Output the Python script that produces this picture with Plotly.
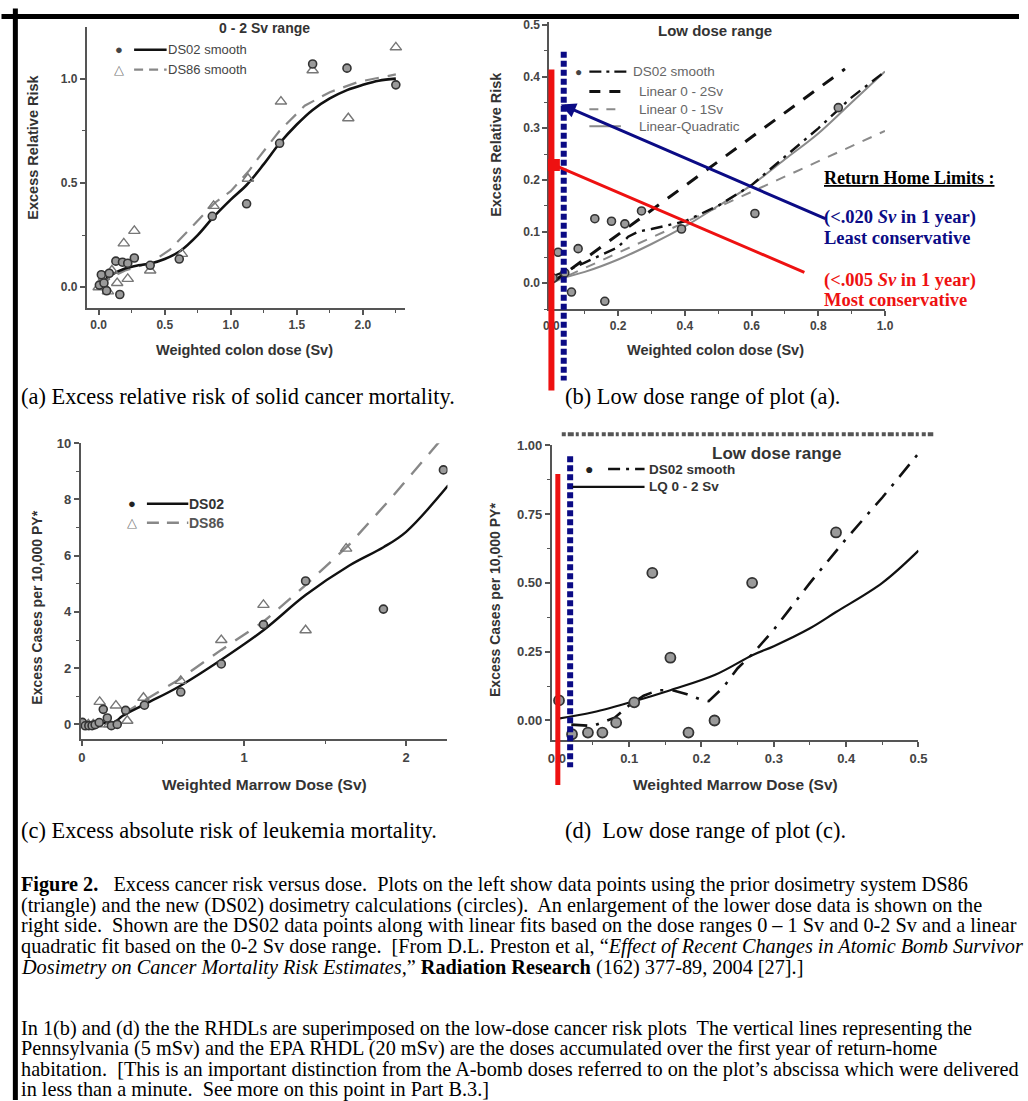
import plotly.graph_objects as go

W, H = 1028, 1101

# ---------------- data ----------------
# (a)/(b) solid cancer excess relative risk vs weighted colon dose (Sv)
colon_ds02_dose = [0.005, 0.02, 0.04, 0.06, 0.08, 0.13, 0.16, 0.18, 0.22, 0.27, 0.39, 0.61, 0.86, 1.12, 1.37, 1.62, 1.88, 2.25]
colon_ds02_err = [0.01, 0.06, 0.02, -0.017, 0.067, 0.125, -0.035, 0.12, 0.115, 0.14, 0.105, 0.135, 0.34, 0.40, 0.69, 1.07, 1.05, 0.97]
colon_ds86_dose = [0.0, 0.02, 0.04, 0.07, 0.10, 0.14, 0.19, 0.22, 0.27, 0.39, 0.63, 0.87, 1.13, 1.38, 1.62, 1.89, 2.25]
colon_ds86_err = [0.0, 0.02, 0.05, -0.02, 0.08, 0.02, 0.21, 0.04, 0.27, 0.08, 0.16, 0.39, 0.52, 0.89, 1.04, 0.81, 1.15]

colon_ds02_smooth_dose = [0.0, 0.1, 0.2, 0.3, 0.4, 0.5, 0.62, 0.75, 0.86, 1.0, 1.12, 1.25, 1.37, 1.5, 1.62, 1.75, 1.88, 2.0, 2.12, 2.25]
colon_ds02_smooth_err = [0.01, 0.06, 0.09, 0.105, 0.115, 0.135, 0.175, 0.25, 0.33, 0.42, 0.49, 0.59, 0.69, 0.78, 0.85, 0.905, 0.945, 0.97, 0.99, 1.0]
colon_ds86_smooth_dose = [0.0, 0.1, 0.2, 0.3, 0.4, 0.54, 0.69, 0.88, 1.0, 1.14, 1.21, 1.37, 1.56, 1.75, 1.97, 2.25]
colon_ds86_smooth_err = [0.0, 0.05, 0.08, 0.1, 0.12, 0.18, 0.28, 0.405, 0.46, 0.56, 0.62, 0.75, 0.87, 0.935, 0.985, 1.02]

# (b) low-dose fits
low_ds02_smooth_dose = [0.01, 0.05, 0.1, 0.15, 0.2, 0.23, 0.26, 0.3, 0.4, 0.5, 0.6, 0.7, 0.8, 0.9, 1.0]
low_ds02_smooth_err = [0.015, 0.025, 0.04, 0.055, 0.07, 0.09, 0.1, 0.105, 0.12, 0.15, 0.19, 0.245, 0.3, 0.36, 0.41]
linear_0_2_dose = [0.0, 0.88]
linear_0_2_err = [0.0, 0.415]
linear_0_1_dose = [0.0, 1.0]
linear_0_1_err = [0.0, 0.295]
lq_colon_dose = [0.0, 0.1, 0.2, 0.3, 0.4, 0.5, 0.6, 0.7, 0.8, 0.9, 1.0]
lq_colon_err = [0.005, 0.022, 0.046, 0.076, 0.11, 0.15, 0.19, 0.24, 0.29, 0.35, 0.41]

# (c)/(d) leukemia excess cases per 10,000 PY vs weighted marrow dose (Sv)
marrow_ds02_dose = [0.003, 0.021, 0.043, 0.063, 0.082, 0.107, 0.132, 0.157, 0.182, 0.218, 0.27, 0.386, 0.61, 0.86, 1.12, 1.38, 1.86, 2.23]
marrow_ds02_cases = [0.073, -0.05, -0.044, -0.044, -0.008, 0.066, 0.536, 0.228, -0.044, 0.0, 0.50, 0.683, 1.15, 2.15, 3.55, 5.1, 4.1, 9.05]
marrow_ds86_dose = [0.01, 0.04, 0.07, 0.11, 0.14, 0.17, 0.21, 0.28, 0.38, 0.61, 0.86, 1.12, 1.38, 1.63]
marrow_ds86_cases = [0.0, 0.0, 0.0, 0.8, 0.0, 0.0, 0.67, 0.13, 0.95, 1.55, 3.0, 4.25, 3.35, 6.25]

marrow_ds02_smooth_dose = [0.0, 0.1, 0.2, 0.25, 0.4, 0.6, 0.86, 1.12, 1.38, 1.65, 1.86, 2.0, 2.26]
marrow_ds02_smooth_cases = [0.0, 0.05, 0.08, 0.3, 0.75, 1.35, 2.3, 3.35, 4.6, 5.65, 6.3, 6.85, 8.5]
marrow_ds86_smooth_dose = [0.25, 0.4, 0.6, 0.86, 1.12, 1.38, 1.65, 1.9, 2.16, 2.3]
marrow_ds86_smooth_cases = [0.35, 0.9, 1.6, 2.65, 3.65, 4.95, 6.4, 8.0, 9.75, 10.7]

# (d) low-dose fits
low_marrow_smooth_dose = [0.02, 0.05, 0.08, 0.1, 0.12, 0.14, 0.16, 0.18, 0.2, 0.21, 0.23, 0.25, 0.27, 0.3, 0.35, 0.4, 0.45, 0.5]
low_marrow_smooth_cases = [-0.015, -0.02, 0.01, 0.055, 0.09, 0.11, 0.11, 0.095, 0.075, 0.07, 0.12, 0.19, 0.24, 0.33, 0.5, 0.66, 0.81, 0.97]
lq_marrow_dose = [0.0, 0.05, 0.107, 0.157, 0.219, 0.271, 0.3, 0.35, 0.386, 0.45, 0.5]
lq_marrow_cases = [0.006, 0.03, 0.07, 0.11, 0.166, 0.238, 0.27, 0.335, 0.394, 0.5, 0.617]

# tick values
a_xticks = [0.0, 0.5, 1.0, 1.5, 2.0]
a_yticks = [0.0, 0.5, 1.0]
b_xticks = [0.0, 0.2, 0.4, 0.6, 0.8, 1.0]
b_yticks = [0.0, 0.1, 0.2, 0.3, 0.4, 0.5]
c_xticks = [0, 1, 2]
c_yticks = [0, 2, 4, 6, 8, 10]
d_xticks = [0.0, 0.1, 0.2, 0.3, 0.4, 0.5]
d_yticks = [0.0, 0.25, 0.5, 0.75, 1.0]


# ---------------- helpers (page pixel -> paper) ----------------
def px(x):
    return x / W


def py(y):
    return 1 - y / H


AX = "#555"
TXT = "#333"


def axis(domain, rng, ticks, fmt, minor, anchor, fsize=12):
    return dict(domain=domain, range=rng, tickvals=ticks, tickformat=fmt,
                showline=True, linecolor=AX, linewidth=2, ticks="outside",
                ticklen=5, tickwidth=1.5, tickcolor=AX, showgrid=False,
                zeroline=False, anchor=anchor,
                minor=dict(dtick=minor, ticks="outside", ticklen=3, tickcolor=AX, tickwidth=1.2),
                tickfont=dict(family="Arial", size=fsize, color="#444", weight="bold"))


fig = go.Figure()

circ = dict(symbol="circle", size=8, color="#9a9a9a", line=dict(color="#333", width=1.6))
circ_d = dict(symbol="circle", size=10, color="#9a9a9a", line=dict(color="#333", width=1.8))
tri = dict(symbol="triangle-up-open", size=10, color="#777", line=dict(color="#777", width=1.4))

# (a)
fig.add_trace(go.Scatter(x=colon_ds86_smooth_dose, y=colon_ds86_smooth_err, mode="lines",
                         line=dict(color="#888", width=2.2, dash="14px,9px"), xaxis="x", yaxis="y"))
fig.add_trace(go.Scatter(x=colon_ds02_smooth_dose, y=colon_ds02_smooth_err, mode="lines",
                         line=dict(color="#111", width=2.6, shape="spline"), xaxis="x", yaxis="y"))
fig.add_trace(go.Scatter(x=colon_ds86_dose, y=colon_ds86_err, mode="markers", marker=tri, xaxis="x", yaxis="y"))
fig.add_trace(go.Scatter(x=colon_ds02_dose, y=colon_ds02_err, mode="markers", marker=circ, xaxis="x", yaxis="y"))

# (b)
fig.add_trace(go.Scatter(x=lq_colon_dose, y=lq_colon_err, mode="lines",
                         line=dict(color="#8a8a8a", width=2, shape="spline"), xaxis="x2", yaxis="y2"))
fig.add_trace(go.Scatter(x=linear_0_1_dose, y=linear_0_1_err, mode="lines",
                         line=dict(color="#8a8a8a", width=2, dash="10px,9px"), xaxis="x2", yaxis="y2"))
fig.add_trace(go.Scatter(x=linear_0_2_dose, y=linear_0_2_err, mode="lines",
                         line=dict(color="#111", width=3, dash="13px,11px"), xaxis="x2", yaxis="y2"))
fig.add_trace(go.Scatter(x=low_ds02_smooth_dose, y=low_ds02_smooth_err, mode="lines",
                         line=dict(color="#111", width=2.4, dash="12px,6px,3px,6px"), xaxis="x2", yaxis="y2"))
fig.add_trace(go.Scatter(x=colon_ds02_dose, y=colon_ds02_err, mode="markers", marker=circ, xaxis="x2", yaxis="y2"))

# (c)
fig.add_trace(go.Scatter(x=marrow_ds86_smooth_dose, y=marrow_ds86_smooth_cases, mode="lines",
                         line=dict(color="#888", width=2.4, dash="16px,11px"), xaxis="x3", yaxis="y3"))
fig.add_trace(go.Scatter(x=marrow_ds02_smooth_dose, y=marrow_ds02_smooth_cases, mode="lines",
                         line=dict(color="#111", width=2.4, shape="spline"), xaxis="x3", yaxis="y3"))
fig.add_trace(go.Scatter(x=marrow_ds86_dose, y=marrow_ds86_cases, mode="markers", marker=tri, xaxis="x3", yaxis="y3"))
fig.add_trace(go.Scatter(x=marrow_ds02_dose, y=marrow_ds02_cases, mode="markers", marker=circ, xaxis="x3", yaxis="y3"))

# (d)
fig.add_trace(go.Scatter(x=lq_marrow_dose, y=lq_marrow_cases, mode="lines",
                         line=dict(color="#111", width=2.2, shape="spline"), xaxis="x4", yaxis="y4"))
fig.add_trace(go.Scatter(x=low_marrow_smooth_dose, y=low_marrow_smooth_cases, mode="lines",
                         line=dict(color="#111", width=2.6, dash="16px,9px,3px,9px"), xaxis="x4", yaxis="y4"))
fig.add_trace(go.Scatter(x=marrow_ds02_dose, y=marrow_ds02_cases, mode="markers", marker=circ_d, xaxis="x4", yaxis="y4"))

# ---------------- layout / axes ----------------
lay = dict(width=W, height=H, margin=dict(l=0, r=0, t=0, b=0, pad=0), showlegend=False,
           paper_bgcolor="white", plot_bgcolor="white")
lay["xaxis"] = axis([px(82), px(405)], [-0.09, 2.32], a_xticks, ".1f", 0.25, "y")
lay["yaxis"] = axis([py(303), py(20)], [-0.1, 1.248], a_yticks, ".1f", 0.25, "x")
lay["xaxis2"] = axis([px(551.5), px(892)], [-0.006, 1.0], b_xticks, ".1f", 0.1, "y2")
lay["yaxis2"] = axis([py(304), py(15)], [-0.05, 0.506], b_yticks, ".1f", 0.05, "x2")
lay["xaxis3"] = axis([px(76), px(448)], [-0.006, 2.255], c_xticks, "d", 0.5, "y3", 13)
lay["yaxis3"] = axis([py(737), py(439)], [-0.53, 10.0], c_yticks, "d", 1, "x3", 13)
lay["xaxis4"] = axis([px(554), px(926)], [-0.0068, 0.5], d_xticks, ".1f", 0.05, "y4", 13)
lay["yaxis4"] = axis([py(738), py(441)], [-0.072, 1.0], d_yticks, ".2f", 0.125, "x4", 13)
fig.update_layout(**lay)

# ---------------- shapes ----------------
shapes = []


def seg(x0, y0, x1, y1, color, width, dash="solid", layer="above"):
    shapes.append(dict(type="line", xref="paper", yref="paper", x0=px(x0), y0=py(y0), x1=px(x1), y1=py(y1),
                       line=dict(color=color, width=width, dash=dash), layer=layer))


RED = "#ee1111"
NAVY = "#0b0b85"
# RHDL vertical lines, panel (b)
seg(553.5, 63, 553.5, 386, RED, 6)
seg(566, 45, 566, 376, NAVY, 6, "6px,3px")
# RHDL vertical lines, panel (d)
seg(560, 470, 560, 783, RED, 5)
seg(572.5, 452, 572.5, 765, NAVY, 6, "6px,3px")

# legend samples (a)
seg(130, 43, 163, 43, "#111", 2.6)
seg(130, 63, 163, 63, "#888", 2.2, "9px,6px")
# legend samples (b)
seg(592, 65, 634, 65, "#111", 2.4, "12px,5px,3px,5px")
seg(592, 85, 624, 85, "#111", 3, "11px,9px")
seg(592, 103, 624, 103, "#8a8a8a", 2, "9px,8px")
seg(592, 120, 624, 120, "#8a8a8a", 2)
# legend samples (c)
seg(143, 500, 185, 500, "#111", 2.6)
seg(143, 519, 185, 519, "#888", 2.4, "12px,8px")
# legend samples (d)
seg(611, 465, 648, 465, "#111", 2.6, "12px,6px,3px,6px")
seg(575, 483, 648, 483, "#111", 2.2)
# truncated header line above panel (d)
seg(564, 430, 941, 430, "#555", 4, "4px,2px,6px,2px,3px,3px")

fig.update_layout(shapes=shapes)

# ---------------- annotations ----------------
ann = []


def txt(x, y, s, size, color=TXT, family="Arial", bold=False, xanchor="left", yanchor="middle", angle=0):
    ann.append(dict(x=px(x), y=py(y), xref="paper", yref="paper", text=s, showarrow=False,
                    font=dict(family=family, size=size, color=color, weight="bold" if bold else "normal"),
                    xanchor=xanchor, yanchor=yanchor, textangle=angle, borderpad=0))


# page frame: top and left edges, drawn as head-less arrow lines
ann.append(dict(x=px(9.5), y=0.0, xref="paper", yref="paper", ax=0, ay=-(H - 7),
                axref="pixel", ayref="pixel", text="", showarrow=True, arrowhead=0,
                arrowwidth=5, arrowcolor="black", standoff=0, startstandoff=0))
ann.append(dict(x=1.0, y=py(9.5), xref="paper", yref="paper", ax=-(W - 7), ay=0,
                axref="pixel", ayref="pixel", text="", showarrow=True, arrowhead=0,
                arrowwidth=5, arrowcolor="black", standoff=0, startstandoff=0))

# panel titles
txt(262, 21, "0 - 2 Sv range", 14, bold=True, xanchor="center")
txt(720, 24, "Low dose range", 15, bold=True, xanchor="center")
txt(782, 449, "Low dose range", 17, bold=True, xanchor="center")

# axis titles
txt(28, 141, "Excess Relative Risk", 14.5, bold=True, xanchor="center", angle=-90)
txt(242, 345, "Weighted colon dose (Sv)", 14.5, bold=True, xanchor="center")
txt(497, 138, "Excess Relative Risk", 14.5, bold=True, xanchor="center", angle=-90)
txt(720, 345, "Weighted colon dose (Sv)", 14.5, bold=True, xanchor="center")
txt(32, 605, "Excess Cases per 10,000 PY*", 14, bold=True, xanchor="center", angle=-90)
txt(262, 782, "Weighted Marrow Dose (Sv)", 15.5, bold=True, xanchor="center")
txt(496, 597, "Excess Cases per 10,000 PY*", 14, bold=True, xanchor="center", angle=-90)
txt(740, 782, "Weighted Marrow Dose (Sv)", 15.5, bold=True, xanchor="center")

# legends
txt(115, 43, "●", 13, color="#444", xanchor="center")
txt(115, 63, "△", 13, color="#777", xanchor="center")
txt(163, 43, "DS02 smooth", 13, color="#444")
txt(163, 63, "DS86 smooth", 13, color="#444")

txt(581, 65, "●", 12, color="#444", xanchor="center")
txt(635, 65, "DS02 smooth", 13.5, color="#666")
txt(641, 85, "Linear 0 - 2Sv", 13.5, color="#666")
txt(641, 103, "Linear 0 - 1Sv", 13.5, color="#666")
txt(641, 120, "Linear-Quadratic", 13.5, color="#666")

txt(128, 500, "●", 13, color="#222", xanchor="center")
txt(128, 519, "△", 13, color="#777", xanchor="center")
txt(185, 500, "DS02", 14, bold=True)
txt(185, 519, "DS86", 14, bold=True, color="#555")

txt(592, 465, "●", 14, color="#222", xanchor="center")
txt(652, 465, "DS02 smooth", 13.5, bold=True)
txt(652, 483, "LQ 0 - 2 Sv", 13.5, bold=True)

# return-home limit labels
SERIF = "Liberation Serif"
txt(829, 172, "<u>Return Home Limits :</u>", 18, color="black", family=SERIF, bold=True)
txt(829, 212, "(<.020 <i>Sv</i> in 1 year)", 18.5, color=NAVY, family=SERIF, bold=True)
txt(829, 232, "Least conservative", 18.5, color=NAVY, family=SERIF, bold=True)
txt(829, 275, "(<.005 <i>Sv</i> in 1 year)", 18.5, color=RED, family=SERIF, bold=True)
txt(829, 295, "Most conservative", 18.5, color=RED, family=SERIF, bold=True)

# arrows to the RHDL lines (panel b)
ann.append(dict(x=px(563), y=py(98), xref="paper", yref="paper", ax=829 - 563, ay=213 - 98,
                axref="pixel", ayref="pixel", text="", showarrow=True, arrowhead=2, arrowsize=1,
                arrowwidth=3, arrowcolor=NAVY, standoff=0))
ann.append(dict(x=px(556), y=py(159), xref="paper", yref="paper", ax=808 - 556, ay=267 - 159,
                axref="pixel", ayref="pixel", text="", showarrow=True, arrowhead=7, arrowsize=1,
                arrowwidth=3, arrowcolor=RED, standoff=0))

# sub-captions
SUB = 22.4
txt(14, 392, "(a) Excess relative risk of solid cancer mortality.", SUB, color="black", family=SERIF)
txt(566, 392, "(b) Low dose range of plot (a).", SUB, color="black", family=SERIF)
txt(14, 829, "(c) Excess absolute risk of leukemia mortality.", SUB, color="black", family=SERIF)
txt(566, 829, "(d)\u00a0 Low dose range of plot (c).", SUB, color="black", family=SERIF)

CAP = 20.25
caption_lines = [
    "<b>Figure 2.</b>\u00a0\u00a0 Excess cancer risk versus dose.\u00a0 Plots on the left show data points using the prior dosimetry system DS86",
    "(triangle) and the new (DS02) dosimetry calculations (circles).\u00a0 An enlargement of the lower dose data is shown on the",
    "right side.\u00a0 Shown are the DS02 data points along with linear fits based on the dose ranges 0 \u2013 1 Sv and 0-2 Sv and a linear",
    "quadratic fit based on the 0-2 Sv dose range.\u00a0 [From D.L. Preston et al, \u201c<i>Effect of Recent Changes in Atomic Bomb Survivor</i>",
    "<i>Dosimetry on Cancer Mortality Risk Estimates,</i>\u201d <b>Radiation Research</b> (162) 377-89, 2004 [27].]",
]
for i, line in enumerate(caption_lines):
    txt(14, 883 + i * 20.8, line, CAP, color="black", family=SERIF)

note_lines = [
    "In 1(b) and (d) the the RHDLs are superimposed on the low-dose cancer risk plots\u00a0 The vertical lines representing the",
    "Pennsylvania (5 mSv) and the EPA RHDL (20 mSv) are the doses accumulated over the first year of return-home",
    "habitation.\u00a0 [This is an important distinction from the A-bomb doses referred to on the plot\u2019s abscissa which were delivered",
    "in less than a minute.\u00a0 See more on this point in Part B.3.]",
]
for i, line in enumerate(note_lines):
    txt(14, 1028 + i * 20.5, line, CAP, color="black", family=SERIF)

fig.update_layout(annotations=ann)

fig.write_html("out.html", config={"displayModeBar": False},
               post_script="document.body.style.margin='0';document.body.style.overflow='hidden';")
